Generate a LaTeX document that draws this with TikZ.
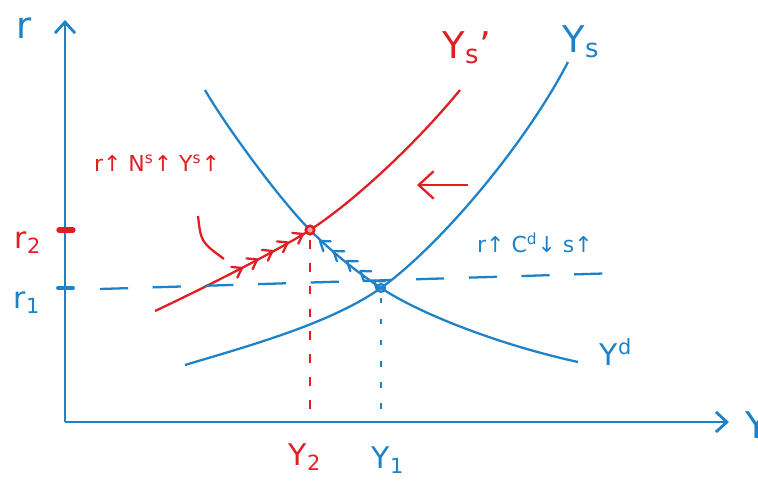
\documentclass[tikz,border=0pt]{standalone}
\usepackage{fontspec}
\setmainfont{DejaVu Sans}
\usetikzlibrary{arrows.meta,decorations.markings}
\definecolor{penblue}{RGB}{30,130,200}
\definecolor{penred}{RGB}{225,30,35}
\tikzset{
  axis/.style={draw=penblue,line width=1.6pt,-{Straight Barb[length=2.2mm,width=4mm]}},
  bluecurve/.style={draw=penblue,line width=1.3pt},
  redcurve/.style={draw=penred,line width=1.3pt},
  biglab/.style={font=\fontsize{21}{23}\selectfont,inner sep=0pt},
  midlab/.style={font=\fontsize{17}{19}\selectfont,inner sep=0pt},
  note/.style={font=\fontsize{12.5}{14}\selectfont,inner sep=0pt},
  chevrons/.style n args={2}{postaction={decorate},decoration={markings,
    mark=between positions 0 and 1 step #2 with {\draw[#1,line cap=round,line join=round] (-5pt,3.5pt) -- (0,0) -- (-5pt,-3.5pt);}}},
}

\begin{document}
\begin{tikzpicture}[x=0.02cm,y=-0.02cm]
  \useasboundingbox (0,0) rectangle (758,482);
  % axes
  \coordinate (O) at (65,422);
  \coordinate (ytop) at (65,20);
  \coordinate (xend) at (729,422);
  \draw[axis] (O) -- (ytop);
  \draw[axis] (O) -- (xend);
  \node[biglab,text=penblue] (rlab) at (24,28) {r};
  \node[biglab,text=penblue,anchor=west] (ylab) at (745,425) {Y};

  % equilibria
  \coordinate (E1) at (381,288);
  \coordinate (E2) at (310,230);

  % curves
  \draw[bluecurve] (185,365) .. controls (250,345.5) and (330,323.7) .. (E1)
    .. controls (440,245.5) and (525,145) .. (568,62);
  \draw[bluecurve] (205,90) .. controls (225,125) and (280,200) .. (E2)
    .. controls (334,254) and (357,272) .. (E1)
    .. controls (420,314) and (500,345) .. (578,362);
  \draw[redcurve] (155,311) .. controls (200,290) and (280,249.5) .. (E2)
    .. controls (352,203) and (415,145) .. (460,90);
  \node[biglab,text=penred] (ysp) at (467,48) {Y\textsubscript{s}'};
  \node[biglab,text=penblue] (ys) at (581,42) {Y\textsubscript{s}};
  \node[midlab,text=penblue] (yd) at (616,352) {Y\textsuperscript{d}};

  % r levels
  \draw[penblue,line width=1.3pt,dash pattern=on 16pt off 14pt] (100,289) -- (620,273);
  \draw[penred,line width=3pt,line cap=round] (59,230) -- (73,230);
  \draw[penblue,line width=2.2pt,line cap=round] (58,288) -- (73,288);
  \node[midlab,text=penred] (r2) at (28,243) {r\textsubscript{2}};
  \node[midlab,text=penblue] (r1) at (27,303) {r\textsubscript{1}};

  % output levels
  \draw[penred,line width=1.2pt,dash pattern=on 5pt off 8pt] (E2) ++(0,10) -- (E2 |- O);
  \draw[penblue,line width=1.2pt,dash pattern=on 3pt off 9pt] (E1) ++(0,10) -- (E1 |- O);
  \node[midlab,text=penred] (y2) at (305,457) {Y\textsubscript{2}};
  \node[midlab,text=penblue] (y1) at (388,460) {Y\textsubscript{1}};

  % points
  \draw[penred,line width=1.5pt,fill=penred!40] (E2) circle[radius=2.4pt];
  \draw[penblue,line width=1.3pt] (E1) circle[radius=2.2pt];

  % adjustment
  \coordinate (shiftA) at (468,185);
  \coordinate (shiftB) at (417,185);
  \draw[redcurve,-{Straight Barb[length=3mm,width=5.5mm]}] (shiftA) -- (shiftB);
  \path[chevrons={redcurve}{0.25}] (242,268) -- (303,234);
  \path[chevrons={bluecurve}{0.25}] (374,281) -- (320,241);
  \draw[redcurve] (198,216) .. controls (201,242) .. (224,259);
  \node[note,text=penred] (nsup) at (157,163) {r↑ N\textsuperscript{s}↑ Y\textsuperscript{s}↑};
  \node[note,text=penblue] (cdem) at (535,243) {r↑ C\textsuperscript{d}↓ s↑};
\end{tikzpicture}
\end{document}
